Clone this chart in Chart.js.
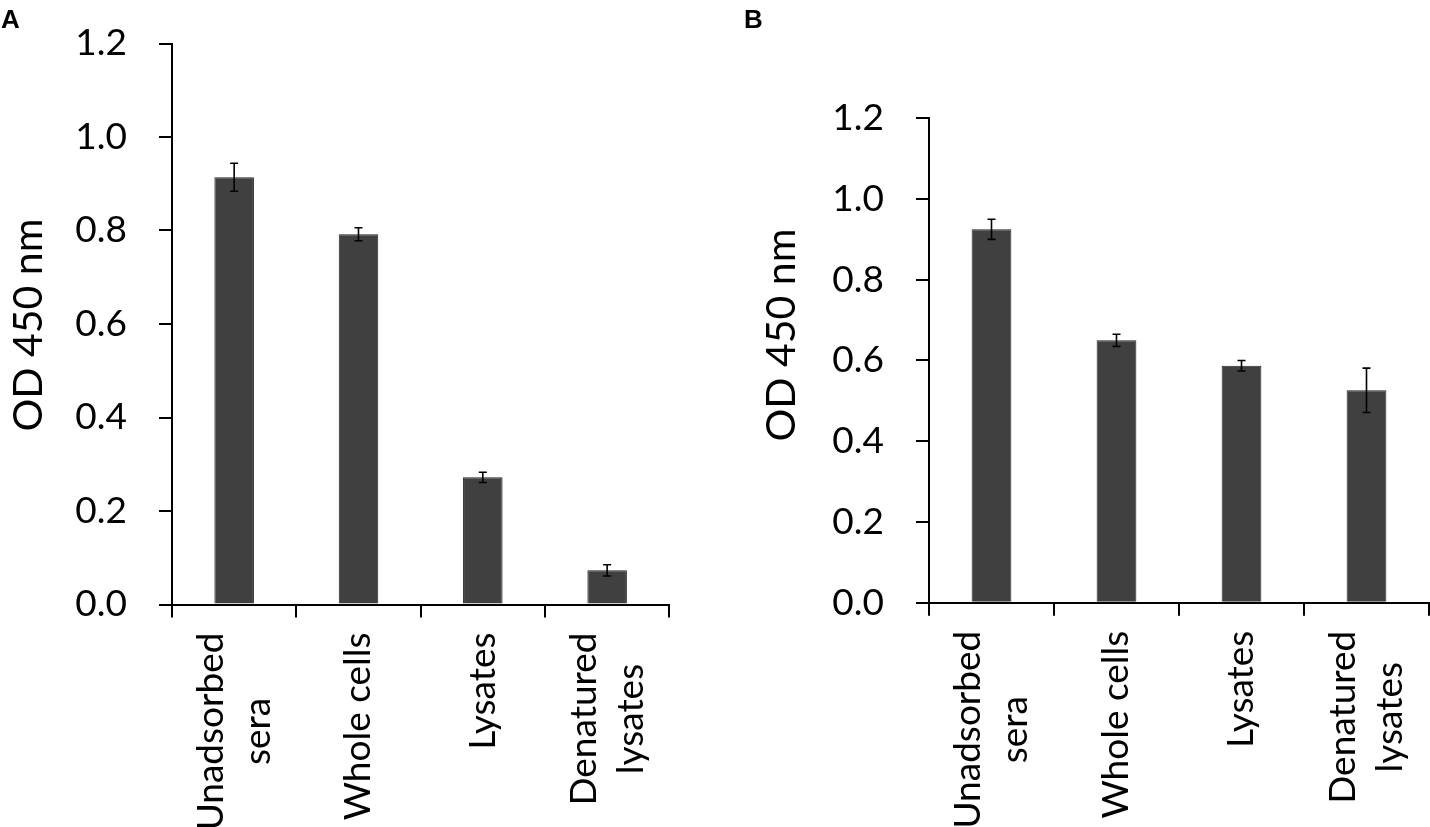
<!DOCTYPE html>
<html>
<head>
<meta charset="utf-8">
<script src="https://cdn.jsdelivr.net/npm/chart.js@4.4.0/dist/chart.umd.min.js"></script>
<style>
  html, body { margin: 0; padding: 0; background: #fff; overflow: hidden; }
  .panel { position: absolute; top: 0; width: 715px; height: 827px; }
  #boxA { left: 0; }
  #boxB { left: 715px; }
  .letter { position: absolute; top: 4px; font: bold 26px "Liberation Sans", Arial, sans-serif; color: #000; }
</style>
</head>
<body>
<div class="panel" id="boxA"><canvas id="chartA" width="715" height="827"></canvas></div>
<div class="panel" id="boxB"><canvas id="chartB" width="715" height="827"></canvas></div>
<div class="letter" style="left:1px">A</div>
<div class="letter" style="left:744px">B</div>
<script>
// data
const categories = [["Unadsorbed", "sera"], ["Whole cells"], ["Lysates"], ["Denatured", "lysates"]];
const valuesA = [0.914, 0.792, 0.272, 0.073];
const errorsA = [0.030, 0.014, 0.011, 0.012];
const valuesB = [0.925, 0.650, 0.587, 0.526];
const errorsB = [0.025, 0.015, 0.013, 0.055];
const yTicks = [0, 0.2, 0.4, 0.6, 0.8, 1.0, 1.2];
const yTitle = "OD 450 nm";

const FONT = 'Lato, "Open Sans", sans-serif';

// error bars on top of each bar
const errorBars = {
    id: "errorBars",
    afterDatasetsDraw(chart, args, opts) {
        const ctx = chart.ctx;
        const y = chart.scales.y;
        const vals = chart.data.datasets[0].data;
        ctx.save();
        ctx.strokeStyle = "#000";
        ctx.lineWidth = 1.6;
        chart.getDatasetMeta(0).data.forEach((bar, i) => {
            const top = y.getPixelForValue(vals[i] + opts.errors[i]);
            const bot = y.getPixelForValue(vals[i] - opts.errors[i]);
            ctx.beginPath();
            ctx.moveTo(bar.x, top); ctx.lineTo(bar.x, bot);
            ctx.moveTo(bar.x - 4, top); ctx.lineTo(bar.x + 4, top);
            ctx.moveTo(bar.x - 4, bot); ctx.lineTo(bar.x + 4, bot);
            ctx.stroke();
        });
        ctx.restore();
    }
};

// rotated category labels, lines centred on each other
const catLabels = {
    id: "catLabels",
    afterDraw(chart, args, opts) {
        const ctx = chart.ctx;
        const x = chart.scales.x;
        ctx.save();
        ctx.font = opts.font;
        ctx.fillStyle = "#000";
        ctx.textAlign = "center";
        ctx.textBaseline = "middle";
        chart.data.labels.forEach((lines, i) => {
            const cx = x.getPixelForValue(i);
            const w = Math.max(...lines.map(l => ctx.measureText(l).width));
            const cy = x.top + opts.gap + w / 2;
            lines.forEach((line, k) => {
                const dx = (k - (lines.length - 1) / 2) * opts.lineHeight;
                ctx.save();
                ctx.translate(cx + dx, cy);
                ctx.rotate(-Math.PI / 2);
                ctx.fillText(line, 0, 0);
                ctx.restore();
            });
        });
        ctx.restore();
    }
};

// y axis title
const sideTitle = {
    id: "sideTitle",
    afterDraw(chart, args, opts) {
        const ctx = chart.ctx;
        ctx.save();
        ctx.font = opts.font;
        ctx.fillStyle = "#000";
        ctx.textAlign = "center";
        ctx.textBaseline = "middle";
        ctx.translate(opts.x, opts.y);
        ctx.rotate(-Math.PI / 2);
        ctx.fillText(opts.text, 0, 0);
        ctx.restore();
    }
};

const makeChart = (id, values, errors, box) => {
    return new Chart(id, {
        type: "bar",
        data: {
            labels: categories,
            datasets: [{
                data: values,
                backgroundColor: "#404040",
                borderColor: "#262626",
                borderWidth: 1,
                categoryPercentage: 1,
                barPercentage: 0.318
            }]
        },
        options: {
            responsive: false,
            animation: false,
            layout: { padding: { top: box.top, right: box.right, bottom: 0, left: 0 } },
            plugins: {
                legend: { display: false },
                tooltip: { enabled: false },
                errorBars: { errors: errors },
                catLabels: { font: "37px " + FONT, gap: 28, lineHeight: 47 },
                sideTitle: { text: yTitle, font: "41px " + FONT, x: box.titleX, y: box.titleY }
            },
            scales: {
                x: {
                    grid: { offset: true, drawOnChartArea: false, drawTicks: true, tickLength: 13, color: "#000", lineWidth: 2 },
                    border: { display: true, color: "#000", width: 2 },
                    ticks: { display: false },
                    afterFit: s => { s.height = box.bottom; s.paddingLeft = 0; s.paddingRight = 0; }
                },
                y: {
                    min: 0,
                    max: 1.2,
                    afterBuildTicks: s => { s.ticks = yTicks.map(v => ({ value: v })); },
                    grid: { drawOnChartArea: false, drawTicks: true, tickLength: 13, color: "#000", lineWidth: 2 },
                    border: { display: true, color: "#000", width: 2 },
                    ticks: {
                        color: "#000",
                        padding: 32,
                        font: { family: FONT, size: 37 },
                        callback: v => v.toFixed(1)
                    },
                    afterFit: s => { s.width = box.left; s.paddingTop = 0; s.paddingBottom = 0; }
                }
            }
        },
        plugins: [errorBars, catLabels, sideTitle]
    });
};

makeChart("chartA", valuesA, errorsA, { left: 172, top: 43.5, right: 45.7, bottom: 222.5, titleX: 29, titleY: 325 });
makeChart("chartB", valuesB, errorsB, { left: 214, top: 118.3, right: 1, bottom: 224.3, titleX: 67, titleY: 335 });
</script>
</body>
</html>
